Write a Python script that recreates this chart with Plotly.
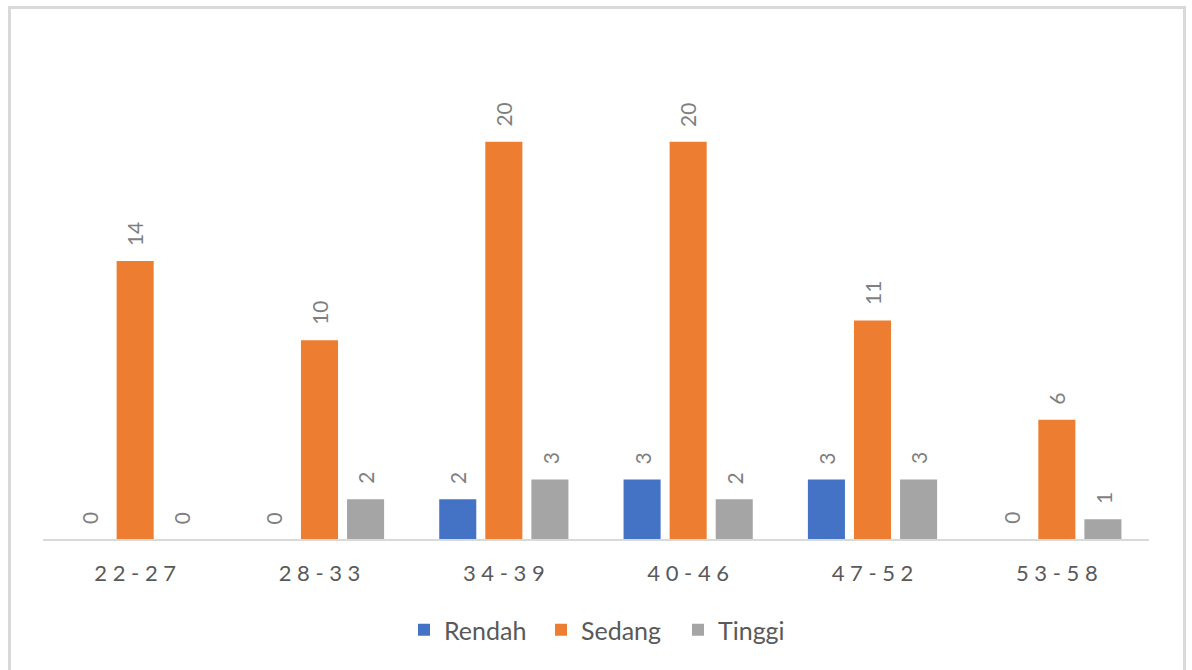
import plotly.graph_objects as go

# Age groups and counts per level
age_groups = ["22-27", "28-33", "34-39", "40-46", "47-52", "53-58"]
rendah = [0, 0, 2, 3, 3, 0]
sedang = [14, 10, 20, 20, 11, 6]
tinggi = [0, 2, 3, 2, 3, 1]

series_names = ["Rendah", "Sedang", "Tinggi"]
series_values = [rendah, sedang, tinggi]
series_colors = ["#4472C4", "#ED7D31", "#A5A5A5"]

FONT = "Lato"
LABEL_GRAY = "#595959"
VALUE_GRAY = "#7F7F7F"

W, H = 1192, 670
L, R, T, B = 43, 43, 102, 131
BARGAP = 0.25
GROUPGAP = 0.196


def spaced(s):
    # letter-spaced category text
    return " ".join(s)


fig = go.Figure()
for name, vals, col in zip(series_names, series_values, series_colors):
    fig.add_trace(go.Bar(
        name=name, x=list(range(len(age_groups))), y=vals,
        marker=dict(color=col, line=dict(width=0)),
        hoverinfo="x+y+name",
    ))

# rotated value labels above each bar
slot = (1 - BARGAP) / len(series_names)
annotations = []
for i, vals in enumerate(series_values):
    off = (i - 1) * slot
    for j, v in enumerate(vals):
        annotations.append(dict(
            x=j + off, y=v, xref="x", yref="y", text=str(v),
            showarrow=False, textangle=-90, yanchor="bottom", xanchor="center",
            yshift=13, font=dict(family=FONT, size=21, color=VALUE_GRAY),
        ))

pw = W - L - R
ph = H - T - B


def px_x(px):
    return (px - L) / pw


def px_y(py):
    return (H - B - py) / ph


fig.update_layout(
    width=W, height=H,
    margin=dict(l=L, r=R, t=T, b=B),
    paper_bgcolor="white", plot_bgcolor="white",
    barmode="group", bargap=BARGAP, bargroupgap=GROUPGAP,
    font=dict(family=FONT, color=LABEL_GRAY),
    xaxis=dict(
        tickmode="array", tickvals=list(range(len(age_groups))),
        ticktext=[spaced(a) for a in age_groups],
        range=[-0.5, len(age_groups) - 0.5],
        showgrid=False, zeroline=False,
        showline=True, linecolor="#D9D9D9", linewidth=2,
        ticks="outside", ticklen=14, tickcolor="rgba(0,0,0,0)",
        tickfont=dict(family=FONT, size=22, color=LABEL_GRAY),
        fixedrange=True,
    ),
    yaxis=dict(range=[0, 22], visible=False, fixedrange=True),
    legend=dict(
        orientation="h", x=px_x(404), xanchor="left", y=px_y(630), yanchor="middle",
        font=dict(family=FONT, size=25, color=LABEL_GRAY),
        itemwidth=30, traceorder="normal", entrywidth=92,
    ),
    annotations=annotations,
    shapes=[dict(
        type="rect", xref="paper", yref="paper",
        x0=px_x(9.5), x1=px_x(1184.5), y0=px_y(700), y1=px_y(7.5),
        line=dict(color="#D9D9D9", width=3), fillcolor="rgba(0,0,0,0)",
        layer="below",
    )],
    showlegend=True,
)

fig.write_html("out.html")
